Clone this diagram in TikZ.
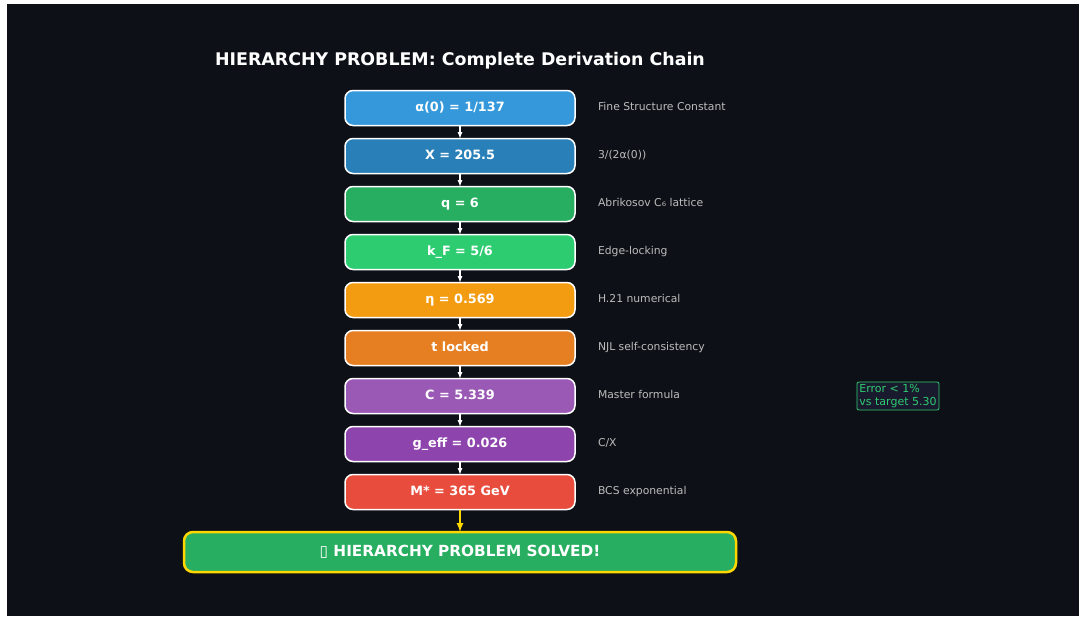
\documentclass[tikz,border=0pt]{standalone}
\usepackage{fontspec}
\setmainfont{DejaVu Sans}
\usetikzlibrary{positioning}
\definecolor{bgdark}{HTML}{0D1117}
\definecolor{notegray}{HTML}{BBBBBB}
\definecolor{cblue}{HTML}{3498DB}
\definecolor{cdblue}{HTML}{2980B9}
\definecolor{cgreen}{HTML}{27AE60}
\definecolor{clgreen}{HTML}{2ECC71}
\definecolor{corange}{HTML}{F39C12}
\definecolor{cdorange}{HTML}{E67E22}
\definecolor{cpurple}{HTML}{9B59B6}
\definecolor{cdpurple}{HTML}{8E44AD}
\definecolor{cred}{HTML}{E74C3C}
\definecolor{cgold}{HTML}{FFD700}
\definecolor{errfill}{HTML}{1A1A2E}
\tikzstyle{every node}=[inner sep=0, outer sep=0]
\tikzstyle{chainbox}=[draw=white, line width=1.5pt, rounded corners=8pt, minimum width=230pt, minimum height=35pt, text height=9.5pt, text depth=2.5pt, text=white, font=\fontsize{12.8}{15}\selectfont\bfseries]
\tikzstyle{sidenote}=[anchor=west, text=notegray, text height=8pt, text depth=2.2pt, font=\fontsize{10.8}{13}\selectfont]
\tikzstyle{flowarrow}=[-latex, white, line width=1.2pt]

\begin{document}
\begin{tikzpicture}[x=1pt, y=-1pt]
    \useasboundingbox (0, 0) rectangle (1081, 616);
    \fill[white] (0, 0) rectangle (1081, 616);
    \fill[bgdark] (7, 4) rectangle (1079, 616);
    \node[text=white, font=\fontsize{17.4}{20}\selectfont\bfseries] (title) at (460, 61) {HIERARCHY PROBLEM: Complete Derivation Chain};
    % the chain
    \node[chainbox, fill=cblue] (alpha) at (460, 108) {α(0) = 1/137};
    \node[chainbox, fill=cdblue] (xval) at (460, 156) {X = 205.5};
    \node[chainbox, fill=cgreen] (qval) at (460, 204) {q = 6};
    \node[chainbox, fill=clgreen] (kf) at (460, 252) {k\_F = 5/6};
    \node[chainbox, fill=corange] (eta) at (460, 300) {η = 0.569};
    \node[chainbox, fill=cdorange] (tlock) at (460, 348) {t locked};
    \node[chainbox, fill=cpurple] (cval) at (460, 396) {C = 5.339};
    \node[chainbox, fill=cdpurple] (geff) at (460, 444) {g\_eff = 0.026};
    \node[chainbox, fill=cred] (mstar) at (460, 492) {M* = 365 GeV};
    \draw[flowarrow] (alpha) -- (xval);
    \draw[flowarrow] (xval) -- (qval);
    \draw[flowarrow] (qval) -- (kf);
    \draw[flowarrow] (kf) -- (eta);
    \draw[flowarrow] (eta) -- (tlock);
    \draw[flowarrow] (tlock) -- (cval);
    \draw[flowarrow] (cval) -- (geff);
    \draw[flowarrow] (geff) -- (mstar);
    % notes on the right
    \node[sidenote] (nalpha) at (598, 108) {Fine Structure Constant};
    \node[sidenote] (nxval) at (598, 156) {3/(2α(0))};
    \node[sidenote] (nqval) at (598, 204) {Abrikosov C₆ lattice};
    \node[sidenote] (nkf) at (598, 252) {Edge-locking};
    \node[sidenote] (neta) at (598, 300) {H.21 numerical};
    \node[sidenote] (ntlock) at (598, 348) {NJL self-consistency};
    \node[sidenote] (ncval) at (598, 396) {Master formula};
    \node[sidenote] (ngeff) at (598, 444) {C/X};
    \node[sidenote] (nmstar) at (598, 492) {BCS exponential};
    \node[draw=clgreen, fill=errfill, text=clgreen, line width=0.8pt, rounded corners=2pt, inner sep=2.5pt, align=left, font=\fontsize{11}{12.5}\selectfont] (err) at (898, 396) {Error < 1\%\\vs target 5.30};
    % result
    \node[draw=cgold, fill=cgreen, line width=2.5pt, rounded corners=9pt, minimum width=552pt, minimum height=40pt, text=white, font=\fontsize{15.3}{18}\selectfont\bfseries] (solved) at (460, 552) {{\mdseries ▯} HIERARCHY PROBLEM SOLVED!};
    \draw[-latex, cgold, line width=2pt] (mstar) -- (solved);
\end{tikzpicture}
\end{document}
